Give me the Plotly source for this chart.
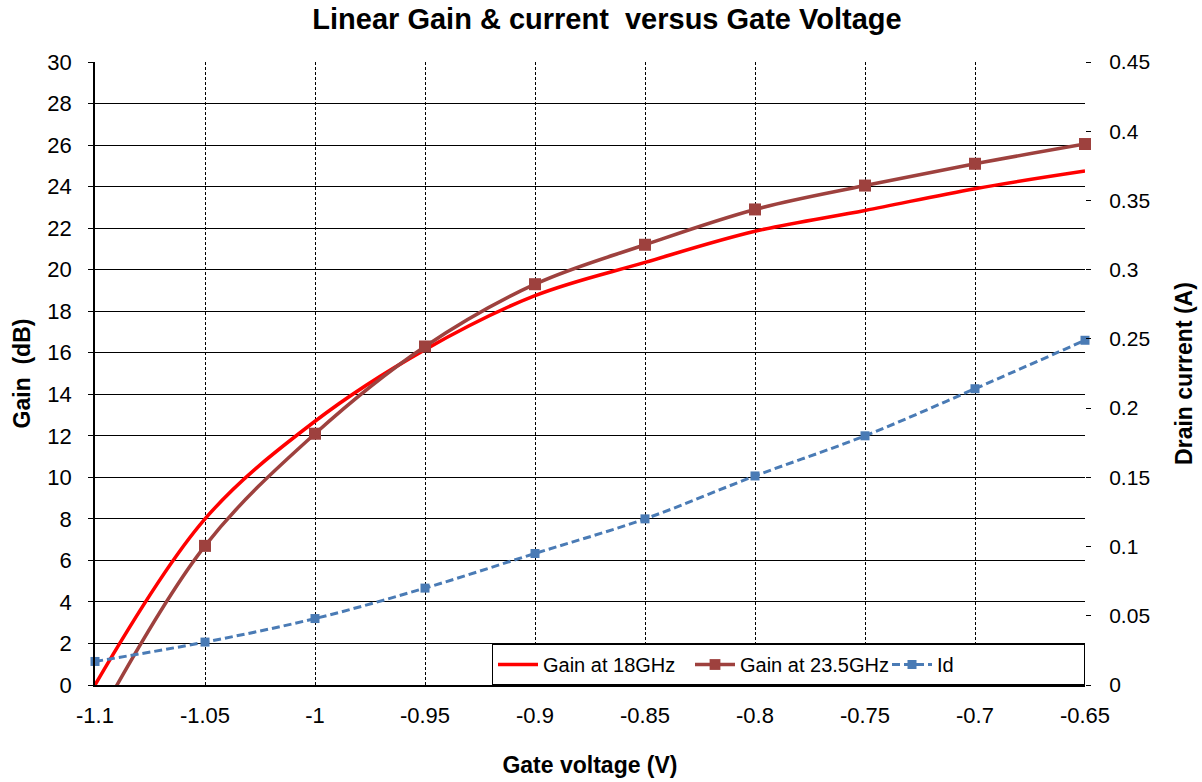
import plotly.graph_objects as go

gate_v = [-1.1, -1.05, -1.0, -0.95, -0.9, -0.85, -0.8, -0.75, -0.7, -0.65]
gain_18 = [0.0, 8.0, 12.7, 16.15, 18.75, 20.35, 21.85, 22.85, 23.9, 24.75]
gain_235 = [-1.9, 6.7, 12.1, 16.3, 19.3, 21.2, 22.9, 24.05, 25.1, 26.05]
drain_id = [0.017, 0.031, 0.048, 0.070, 0.095, 0.120, 0.151, 0.180, 0.214, 0.249]

x_tick_vals = [-1.1, -1.05, -1.0, -0.95, -0.9, -0.85, -0.8, -0.75, -0.7, -0.65]
x_tick_text = ["-1.1", "-1.05", "-1", "-0.95", "-0.9", "-0.85", "-0.8", "-0.75", "-0.7", "-0.65"]
y2_tick_vals = [0, 0.05, 0.1, 0.15, 0.2, 0.25, 0.3, 0.35, 0.4, 0.45]
y2_tick_text = ["0", "0.05", "0.1", "0.15", "0.2", "0.25", "0.3", "0.35", "0.4", "0.45"]

FONT = "Liberation Sans, Arial, sans-serif"
RED = "#FF0000"
BROWN = "#9E413E"
BLUE = "#4A7BB5"

W, H = 1202, 782
brown_sizes = [0 if v < 0 else 12 for v in gain_235]

fig = go.Figure()
fig.add_trace(go.Scatter(
    x=gate_v, y=gain_18, name="Gain at 18GHz", mode="lines",
    line=dict(color=RED, width=3.5, shape="spline"),
))
fig.add_trace(go.Scatter(
    x=gate_v, y=gain_235, name="Gain at 23.5GHz", mode="lines+markers",
    line=dict(color=BROWN, width=3.5, shape="spline"),
    marker=dict(symbol="square", size=brown_sizes, color=BROWN, opacity=1,
                line=dict(width=0)),
    cliponaxis=False,
))
fig.add_trace(go.Scatter(
    x=gate_v, y=drain_id, name="Id", mode="lines+markers", yaxis="y2",
    line=dict(color=BLUE, width=3, shape="spline", dash="8px,4px"),
    marker=dict(symbol="square", size=9, color=BLUE, opacity=1,
                line=dict(width=0)),
    cliponaxis=False,
))

fig.update_layout(
    width=W, height=H,
    margin=dict(l=95, r=117, t=62, b=97),
    paper_bgcolor="white", plot_bgcolor="white",
    font=dict(family=FONT, size=22, color="black"),
    title=dict(text="<b>Linear Gain &amp; current \u00a0versus Gate Voltage</b>",
               x=607 / W, xanchor="center", y=1 - 19 / H, yanchor="middle",
               font=dict(family=FONT, size=29, color="black")),
    xaxis=dict(
        range=[-1.1, -0.65], tickvals=x_tick_vals, ticktext=x_tick_text,
        showgrid=True, gridcolor="black", gridwidth=1, griddash="3px,2px",
        showline=True, linecolor="black", linewidth=1.5,
        ticks="", ticklabelstandoff=10, zeroline=False, automargin=False,
        tickfont=dict(size=22),
        title=dict(text="<b>Gate voltage (V)</b>", standoff=30,
                   font=dict(family=FONT, size=23)),
    ),
    yaxis=dict(
        range=[0, 30], dtick=2, tick0=0,
        showgrid=True, gridcolor="black", gridwidth=1,
        showline=True, linecolor="black", linewidth=1.5,
        ticks="outside", ticklen=5, tickcolor="black", zeroline=False,
        ticklabelstandoff=12, tickfont=dict(size=22), automargin=False,
        title=dict(text="<b>Gain  (dB)</b>", standoff=10,
                   font=dict(family=FONT, size=23)),
    ),
    yaxis2=dict(
        range=[0, 0.45], tickvals=y2_tick_vals, ticktext=y2_tick_text,
        overlaying="y", side="right", showgrid=False, zeroline=False,
        showline=False, ticks="outside", ticklen=5, tickcolor="black",
        ticklabelstandoff=14, tickfont=dict(size=21), automargin=False,
        title=dict(text="<b>Drain current (A)</b>", standoff=26,
                   font=dict(family=FONT, size=23)),
    ),
    legend=dict(
        orientation="h", x=1, xanchor="right", y=0, yanchor="bottom",
        bgcolor="white", bordercolor="black", borderwidth=1,
        font=dict(family=FONT, size=20), traceorder="normal",
        itemwidth=40, entrywidth=142,
    ),
    showlegend=True,
)

fig.write_html("out.html", config={"displayModeBar": False},
               post_script="document.body.style.margin='0';")
